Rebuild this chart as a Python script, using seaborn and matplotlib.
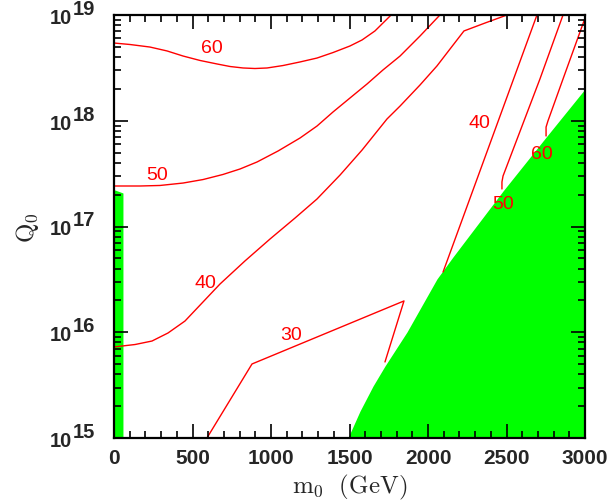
import numpy as np
import pandas as pd
import matplotlib
matplotlib.use("Agg")
import matplotlib.pyplot as plt
import seaborn as sns
from matplotlib.ticker import MultipleLocator, LogLocator, NullFormatter, FixedLocator
from matplotlib.transforms import offset_copy

# ---- contour lines: m0 (GeV) and log10(Q0 / GeV) ----
c60_m0 = [0, 102, 229, 338, 440, 548, 656, 739, 822, 898, 975, 1076, 1185, 1293,
          1395, 1503, 1580, 1662, 1765]
c60_lq = [18.735, 18.721, 18.697, 18.660, 18.612, 18.570, 18.537, 18.513, 18.499,
          18.494, 18.499, 18.522, 18.556, 18.593, 18.645, 18.707, 18.764, 18.849, 19.0]

c50_m0 = [0, 166, 293, 440, 567, 694, 803, 911, 1045, 1185, 1293, 1395, 1503, 1612,
          1713, 1822, 1949, 2076]
c50_lq = [17.383, 17.383, 17.388, 17.411, 17.444, 17.492, 17.544, 17.610, 17.714,
          17.837, 17.950, 18.083, 18.215, 18.348, 18.480, 18.612, 18.801, 19.0]

c40_m0 = [0, 134, 242, 344, 452, 561, 675, 834, 994, 1153, 1293, 1440, 1580, 1739,
          1822, 1949, 2057, 2140, 2229, 2363, 2503]
c40_lq = [15.861, 15.884, 15.917, 15.993, 16.106, 16.277, 16.456, 16.674, 16.882,
          17.080, 17.260, 17.487, 17.723, 18.017, 18.139, 18.338, 18.518, 18.678,
          18.849, 18.924, 19.0]

c30_m0 = [592, 879, 1847, 1726]
c30_lq = [15.0, 15.70, 16.296, 15.719]

c40r_m0 = [2694, 2096]
c40r_lq = [19.0, 16.57]

c50r_m0 = [2860, 2713, 2478, 2471, 2471]
c50r_lq = [19.0, 18.395, 17.478, 17.421, 17.355]

c60r_m0 = [3000, 2860, 2764, 2752, 2752]
c60r_lq = [18.97, 18.395, 17.998, 17.94, 17.856]

# ---- excluded regions (green) ----
excl_m0 = [1490, 1567, 1650, 1726, 1866, 2057, 2159, 2478, 2758, 3000]
excl_lq = [15.0, 15.255, 15.492, 15.681, 16.002, 16.504, 16.712, 17.336, 17.856, 18.30]

strip_m0 = [0, 6, 57]
strip_lq = [17.345, 17.345, 17.317]

# ---- contour labels ----
lab_text = ["60", "50", "40", "30", "40", "60", "50"]
lab_m0 = [624, 274, 580, 1127, 2325, 2726, 2478]
lab_lq = [18.697, 17.496, 16.466, 15.983, 17.988, 17.686, 17.222]

x_ticks = [0, 500, 1000, 1500, 2000, 2500, 3000]
y_decades = [15, 16, 17, 18, 19]

sns.set_style("white")
plt.rcParams["mathtext.fontset"] = "cm"
plt.rcParams["font.family"] = ["Liberation Sans", "DejaVu Sans"]
plt.rcParams["axes.axisbelow"] = False

fig = plt.figure(figsize=(6.10, 5.02), dpi=100)
ax = fig.add_axes([114 / 610, 1 - 439 / 502, 471 / 610, 423 / 502])
ax.set_axisbelow(False)
ax.set_yscale("log")
ax.set_xlim(0, 3000)
ax.set_ylim(1e15, 1e19)

green = "#00ff00"
red = "#ff0000"

# excluded regions
ax.fill_between(excl_m0, [10 ** v for v in excl_lq], 1e15, color=green, lw=0, zorder=1)
ax.fill_between(strip_m0, [10 ** v for v in strip_lq], 1e15, color=green, lw=0, zorder=1)

# contour lines
for m0, lq in [(c60_m0, c60_lq), (c50_m0, c50_lq), (c40_m0, c40_lq), (c30_m0, c30_lq),
               (c40r_m0, c40r_lq), (c50r_m0, c50r_lq), (c60r_m0, c60r_lq)]:
    df = pd.DataFrame({"m0": m0, "Q0": [10 ** v for v in lq]})
    sns.lineplot(data=df, x="m0", y="Q0", sort=False, estimator=None,
                 color=red, lw=1.0, ax=ax, zorder=3)

for t, xm, yl in zip(lab_text, lab_m0, lab_lq):
    ax.text(xm, 10 ** yl, t, color=red, fontsize=14, ha="center", va="center",
            family=["Liberation Sans"], zorder=4)

# axes styling
for s in ax.spines.values():
    s.set_linewidth(1.6)
    s.set_color("black")
    s.set_zorder(5)

ax.xaxis.set_ticks_position("both")
ax.yaxis.set_ticks_position("both")
ax.xaxis.set_major_locator(FixedLocator(x_ticks))
ax.xaxis.set_minor_locator(MultipleLocator(100))
ax.yaxis.set_major_locator(FixedLocator([10.0 ** d for d in y_decades]))
ax.yaxis.set_minor_locator(LogLocator(base=10, subs=np.arange(2, 10), numticks=20))
ax.yaxis.set_minor_formatter(NullFormatter())
ax.tick_params(axis="both", which="both", direction="in", top=True, right=True,
               bottom=True, left=True, labeltop=False, labelright=False,
               color="black", width=1.2)
ax.tick_params(axis="both", which="major", length=10)
ax.tick_params(axis="both", which="minor", length=5)
ax.tick_params(axis="x", which="major", pad=7, labelsize=15)
ax.xaxis.set_zorder(4.5)
ax.yaxis.set_zorder(4.5)
ax.set_xticklabels([str(v) for v in x_ticks], fontweight="bold")
ax.set_yticklabels([])

# decade labels drawn as "10" with a full-size raised exponent
ytrans = ax.get_yaxis_transform()
for d in y_decades:
    base = offset_copy(ytrans, fig=fig, x=-42 / 100 * 72, y=-2.5 / 100 * 72, units="points")
    ax.text(0, 10.0 ** d, "10", transform=base, ha="right", va="center",
            fontsize=14.5, fontweight="bold")
    sup = offset_copy(ytrans, fig=fig, x=-41 / 100 * 72, y=6.5 / 100 * 72, units="points")
    ax.text(0, 10.0 ** d, str(d), transform=sup, ha="left", va="center",
            fontsize=14.5, fontweight="bold")

ax.set_xlabel(r"$\mathrm{m_0\ \ (GeV)}$", fontsize=18, labelpad=4)
ax.set_ylabel(r"$\mathrm{Q_0}$", fontsize=18, labelpad=49)

fig.savefig("out.png", dpi=100)
